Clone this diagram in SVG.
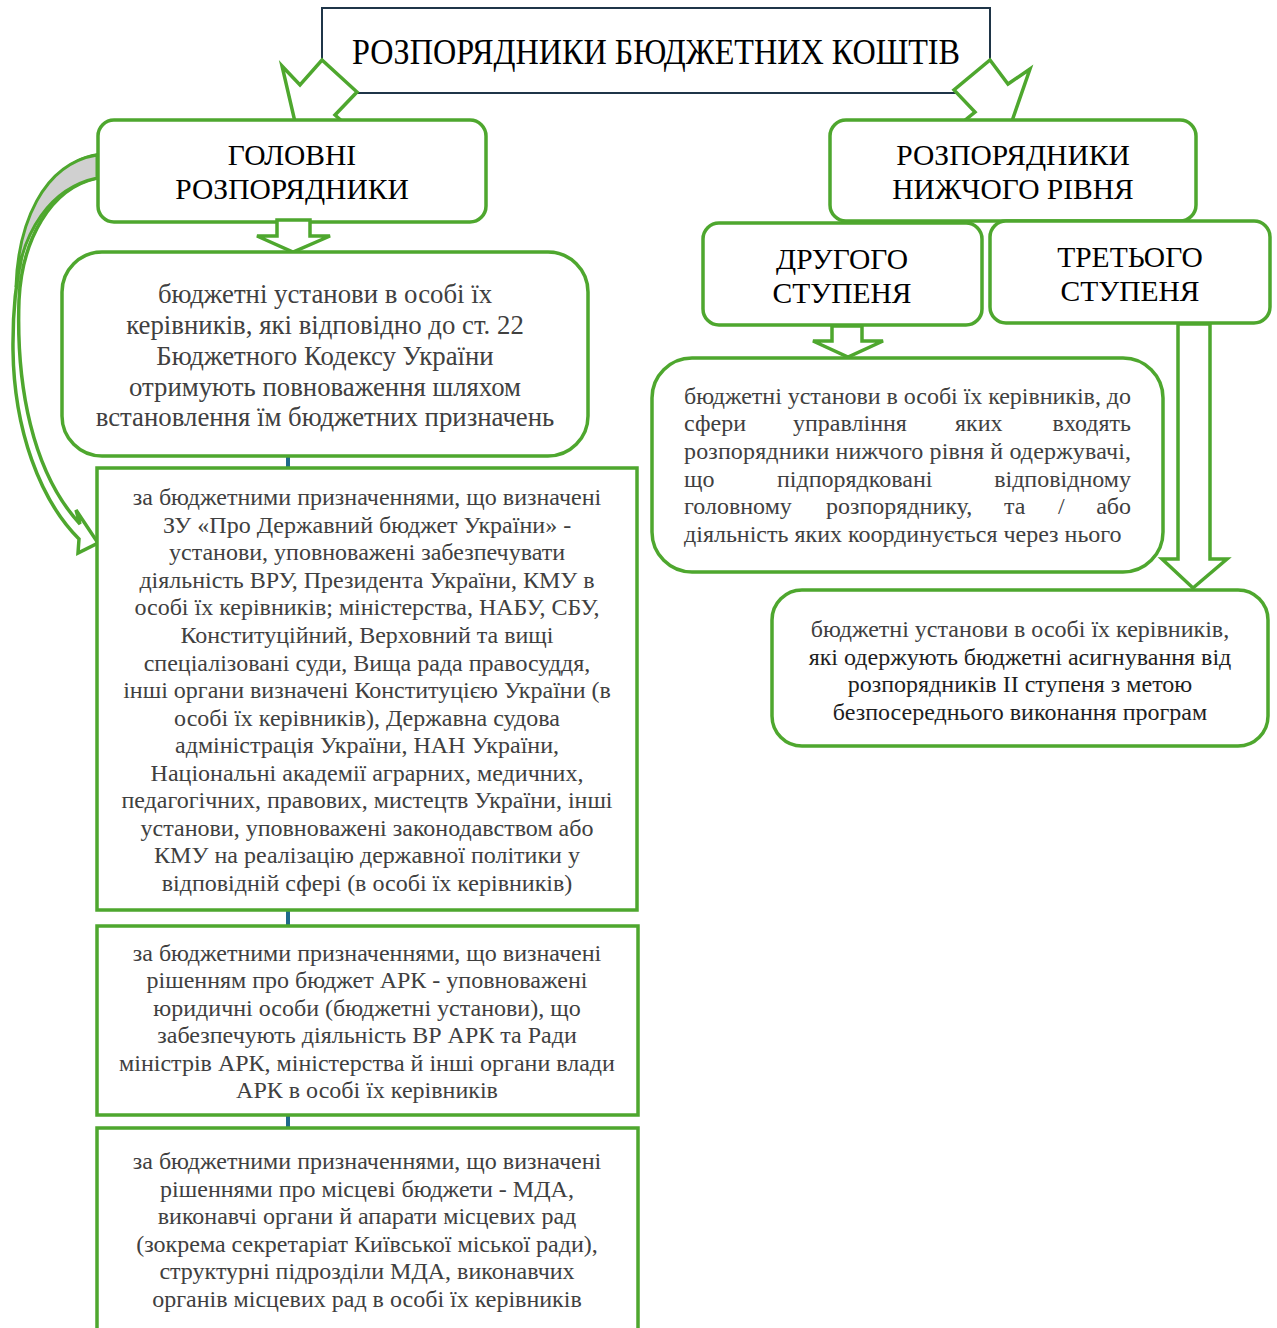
<svg xmlns="http://www.w3.org/2000/svg" width="1277" height="1328" viewBox="0 0 1277 1328">
<style>
.g{fill:#fff;stroke:#4EA72E;stroke-width:3.5}
.ar{fill:#fff;stroke:#4EA72E;stroke-width:3.5;stroke-linejoin:miter}
.t{font-family:"Liberation Serif","Times New Roman",serif;fill:#404040}
.h{font-size:29.5px;text-anchor:middle;fill:#000}
.m{font-size:26.8px;text-anchor:middle}
.s{font-size:24px;text-anchor:middle}
.r{font-size:24px}
.dk{fill:#1e1e1e}
.c{stroke:#1F6A8A;stroke-width:4}
</style>
<rect width="1277" height="1328" fill="#fff"/>

<g id="connectors">
<line class="c" x1="288" y1="455" x2="288" y2="469"/>
<line class="c" x1="288" y1="909" x2="288" y2="927"/>
<line class="c" x1="288" y1="1114" x2="288" y2="1129"/>
</g>

<g id="top">
<rect x="322" y="8" width="668" height="85" fill="#fff" stroke="#1F3548" stroke-width="2"/>
<text class="t" x="656" y="64" font-size="35" text-anchor="middle" style="fill:#000" textLength="608" lengthAdjust="spacingAndGlyphs">РОЗПОРЯДНИКИ БЮДЖЕТНИХ КОШТІВ</text>
</g>

<g id="arrow-left">
<polygon class="ar" points="282,66 300,85 322,60 357,92 335,115 354,132 295,122"/>
</g>
<g id="arrow-right">
<polygon class="ar" points="990,60 1008,84 1030,69 1012,121 953,130 975,112 954,90"/>
</g>

<g id="main">
<rect class="g" x="98" y="120" width="388" height="102" rx="16"/>
<text class="t h" x="292" y="165">ГОЛОВНІ</text>
<text class="t h" x="292" y="199">РОЗПОРЯДНИКИ</text>
</g>

<g id="lower">
<rect class="g" x="830" y="120" width="366" height="101" rx="16"/>
<text class="t h" x="1013" y="165">РОЗПОРЯДНИКИ</text>
<text class="t h" x="1013" y="199">НИЖЧОГО РІВНЯ</text>
</g>

<g id="curved-arrow">
<path class="ar" d="M97,155 C35,165 12,260 13,350 C14,430 40,500 79,539 L78,553 L98,543 L76,510 L80,524 C32,472 16,385 19,300 C22,240 50,188 97,178 Z"/>
<path d="M97,155 C42,164 18,225 16,287 C22,232 50,188 97,178 Z" fill="#D0D0D0" stroke="#4EA72E" stroke-width="3"/>
</g>

<g id="arrow-main-down">
<polygon class="ar" points="277,220 310,220 310,236 330,236 293,252 257,236 277,236"/>
</g>

<g id="box-main">
<rect class="g" x="62" y="252" width="526" height="204" rx="40"/>
<text class="t m" x="325" y="303">бюджетні установи в особі їх</text>
<text class="t m" x="325" y="334">керівників, які відповідно до ст. 22</text>
<text class="t m" x="325" y="365">Бюджетного Кодексу України</text>
<text class="t m" x="325" y="396">отримують повноваження шляхом</text>
<text class="t m" x="325" y="426">встановлення їм бюджетних призначень</text>
</g>

<g id="box-state">
<rect class="g" x="97" y="468" width="540" height="442"/>
<text class="t s" x="367" y="505">за бюджетними призначеннями, що визначені</text>
<text class="t s" x="367" y="533">ЗУ «Про Державний бюджет України» -</text>
<text class="t s" x="367" y="560">установи, уповноважені забезпечувати</text>
<text class="t s" x="367" y="588">діяльність ВРУ, Президента України, КМУ в</text>
<text class="t s" x="367" y="615">особі їх керівників; міністерства, НАБУ, СБУ,</text>
<text class="t s" x="367" y="643">Конституційний, Верховний та вищі</text>
<text class="t s" x="367" y="671">спеціалізовані суди, Вища рада правосуддя,</text>
<text class="t s" x="367" y="698">інші органи визначені Конституцією України (в</text>
<text class="t s" x="367" y="726">особі їх керівників), Державна судова</text>
<text class="t s" x="367" y="753">адміністрація України, НАН України,</text>
<text class="t s" x="367" y="781">Національні академії аграрних, медичних,</text>
<text class="t s" x="367" y="808">педагогічних, правових, мистецтв України, інші</text>
<text class="t s" x="367" y="836">установи, уповноважені законодавством або</text>
<text class="t s" x="367" y="863">КМУ на реалізацію державної політики у</text>
<text class="t s" x="367" y="891">відповідній сфері (в особі їх керівників)</text>
</g>

<g id="box-ark">
<rect class="g" x="97" y="926" width="541" height="189"/>
<text class="t s" x="367" y="961">за бюджетними призначеннями,  що визначені</text>
<text class="t s" x="367" y="988">рішенням про бюджет АРК - уповноважені</text>
<text class="t s" x="367" y="1016">юридичні особи (бюджетні установи), що</text>
<text class="t s" x="367" y="1043">забезпечують діяльність ВР АРК та Ради</text>
<text class="t s" x="367" y="1071">міністрів АРК, міністерства й інші органи влади</text>
<text class="t s" x="367" y="1098">АРК в особі їх керівників</text>
</g>

<g id="box-local">
<rect class="g" x="97" y="1128" width="541" height="215"/>
<text class="t s" x="367" y="1169">за бюджетними призначеннями, що визначені</text>
<text class="t s" x="367" y="1197">рішеннями про місцеві бюджети - МДА,</text>
<text class="t s" x="367" y="1224">виконавчі органи й апарати місцевих рад</text>
<text class="t s" x="367" y="1252">(зокрема секретаріат Київської міської ради),</text>
<text class="t s" x="367" y="1279">структурні підрозділи МДА, виконавчих</text>
<text class="t s" x="367" y="1307">органів місцевих рад в особі їх керівників</text>
</g>

<g id="second">
<rect class="g" x="703" y="223" width="279" height="102" rx="16"/>
<text class="t h" x="842" y="269">ДРУГОГО</text>
<text class="t h" x="842" y="303">СТУПЕНЯ</text>
</g>

<g id="third">
<rect class="g" x="990" y="221" width="280" height="102" rx="16"/>
<text class="t h" x="1130" y="267">ТРЕТЬОГО</text>
<text class="t h" x="1130" y="301">СТУПЕНЯ</text>
</g>

<g id="arrow-second-down">
<polygon class="ar" points="832,326 862,326 862,341 883,341 848,357 813,341 832,341"/>
</g>

<g id="arrow-third-down">
<polygon class="ar" points="1178,324 1210,324 1210,559 1227,559 1193,588 1162,559 1178,559"/>
</g>

<g id="box-second">
<rect class="g" x="652" y="358" width="511" height="214" rx="40"/>
<text class="t r" x="684" y="404" textLength="447" lengthAdjust="spacing">бюджетні установи в особі їх керівників, до</text>
<text class="t r" x="684" y="431">сфери</text>
<text class="t r" x="793" y="431">управління</text>
<text class="t r" x="955" y="431">яких</text>
<text class="t r" x="1131" y="431" text-anchor="end">входять</text>
<text class="t r" x="684" y="459" textLength="447" lengthAdjust="spacing">розпорядники нижчого рівня й одержувачі,</text>
<text class="t r" x="684" y="487">що</text>
<text class="t r" x="777" y="487">підпорядковані</text>
<text class="t r" x="1131" y="487" text-anchor="end">відповідному</text>
<text class="t r" x="684" y="514">головному</text>
<text class="t r" x="826" y="514">розпоряднику,</text>
<text class="t r" x="1004" y="514">та</text>
<text class="t r" x="1058" y="514">/</text>
<text class="t r" x="1131" y="514" text-anchor="end">або</text>
<text class="t r" x="684" y="542">діяльність яких координується через нього</text>
</g>

<g id="box-third">
<rect class="g" x="772" y="590" width="496" height="156" rx="30"/>
<text class="t r" x="1020" y="637" text-anchor="middle">бюджетні установи в особі їх керівників,</text>
<text class="t r dk" x="1020" y="665" text-anchor="middle">які одержують бюджетні асигнування від</text>
<text class="t r dk" x="1020" y="692" text-anchor="middle">розпорядників II ступеня з метою</text>
<text class="t r dk" x="1020" y="720" text-anchor="middle">безпосереднього виконання програм</text>
</g>
</svg>
